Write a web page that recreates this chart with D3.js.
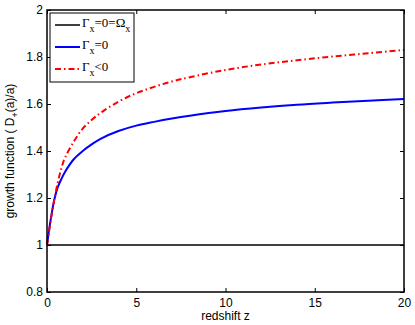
<!DOCTYPE html>
<html>
<head>
<meta charset="utf-8">
<script src="https://cdn.jsdelivr.net/npm/d3@7"></script>
<style>
  body { margin: 0; background: #fff; }
  text { font-family: "Liberation Sans", Arial, sans-serif; }
</style>
</head>
<body>
<div id="chart"></div>
<script>
// redshift samples and the three growth curves
var zVals = [0, 0.1, 0.2, 0.4, 0.6, 0.8, 1, 1.5, 2, 2.5, 3, 4, 5, 6, 7, 8, 10, 12, 14, 16, 18, 20];
var gammaZero = [1.0, 1.055, 1.105, 1.19, 1.245, 1.28, 1.31, 1.365, 1.40, 1.428, 1.452, 1.485, 1.508, 1.524, 1.538, 1.55, 1.57, 1.585, 1.597, 1.606, 1.614, 1.621];
var gammaNeg = [1.0, 1.05, 1.10, 1.19, 1.265, 1.325, 1.37, 1.44, 1.495, 1.532, 1.562, 1.61, 1.646, 1.673, 1.696, 1.714, 1.745, 1.768, 1.786, 1.802, 1.816, 1.83];
var gammaOmega = zVals.map(function() { return 1; });

var xTicks = [0, 5, 10, 15, 20];
var yTicks = [0.8, 1, 1.2, 1.4, 1.6, 1.8, 2];

var svgWidth = 415, svgHeight = 325;
var margin = { top: 10, right: 11, bottom: 33, left: 47 };
var width = svgWidth - margin.left - margin.right;
var height = svgHeight - margin.top - margin.bottom;

var svg = d3.select("#chart").append("svg")
  .attr("width", svgWidth)
  .attr("height", svgHeight);

var g = svg.append("g")
  .attr("transform", "translate(" + margin.left + "," + margin.top + ")");

var x = d3.scaleLinear().domain([0, 20]).range([0, width]);
var y = d3.scaleLinear().domain([0.8, 2]).range([height, 0]);

// axes, matlab style: ticks inside on all four sides
var tickLen = 4;
function styleAxis(sel) {
  sel.select(".domain").remove();
  sel.selectAll("line").attr("stroke", "#000").attr("stroke-width", 1);
  sel.selectAll("text").attr("font-size", 12).attr("fill", "#000");
}
g.append("g").attr("transform", "translate(0," + height + ")")
  .call(d3.axisBottom(x).tickValues(xTicks).tickSize(-tickLen).tickPadding(6).tickFormat(d3.format("d")))
  .call(styleAxis);
g.append("g")
  .call(d3.axisTop(x).tickValues(xTicks).tickSize(-tickLen).tickFormat(""))
  .call(styleAxis);
g.append("g")
  .call(d3.axisLeft(y).tickValues(yTicks).tickSize(-tickLen).tickPadding(4).tickFormat(function(d) { return String(+d.toFixed(1)); }))
  .call(styleAxis);
g.append("g").attr("transform", "translate(" + width + ",0)")
  .call(d3.axisRight(y).tickValues(yTicks).tickSize(-tickLen).tickFormat(""))
  .call(styleAxis);

var line = d3.line()
  .x(function(d, i) { return x(zVals[i]); })
  .y(function(d) { return y(d); })
  .curve(d3.curveCatmullRom);

g.append("path").datum(gammaOmega)
  .attr("d", line).attr("fill", "none").attr("stroke", "#000").attr("stroke-width", 1.5);
g.append("path").datum(gammaZero)
  .attr("d", line).attr("fill", "none").attr("stroke", "#0000ff").attr("stroke-width", 2);
g.append("path").datum(gammaNeg)
  .attr("d", line).attr("fill", "none").attr("stroke", "#ff0000").attr("stroke-width", 2)
  .attr("stroke-dasharray", "6,3,1.5,3");

// frame
g.append("rect").attr("width", width).attr("height", height)
  .attr("fill", "none").attr("stroke", "#000").attr("stroke-width", 1.5);

// axis labels
svg.append("text")
  .attr("x", margin.left + width / 2).attr("y", 320)
  .attr("text-anchor", "middle").attr("font-size", 12)
  .text("redshift z");

var yLab = svg.append("text")
  .attr("transform", "translate(14," + (margin.top + height / 2) + ")rotate(-90)")
  .attr("text-anchor", "middle").attr("font-size", 12);
yLab.append("tspan").text("growth function ( D");
yLab.append("tspan").attr("font-size", 9).attr("dy", 4).text("+");
yLab.append("tspan").attr("dy", -4).text("(a)/a)");

// legend
var legend = svg.append("g").attr("transform", "translate(50,13)");
legend.append("rect").attr("width", 84).attr("height", 69)
  .attr("fill", "#fff").attr("stroke", "#000").attr("stroke-width", 1);

var legendItems = [
  { color: "#000", dash: null, width: 1.5, rest: "=0=Ω", sub2: "x" },
  { color: "#0000ff", dash: null, width: 2, rest: "=0", sub2: null },
  { color: "#ff0000", dash: "6,3,1.5,3", width: 2, rest: "<0", sub2: null }
];
legendItems.forEach(function(d, i) {
  var ly = 12 + i * 22;
  legend.append("line")
    .attr("x1", 5).attr("x2", 30).attr("y1", ly).attr("y2", ly)
    .attr("stroke", d.color).attr("stroke-width", d.width)
    .attr("stroke-dasharray", d.dash);
  var t = legend.append("text")
    .attr("x", 32).attr("y", ly + 2)
    .style("font-family", "'Liberation Serif', 'Times New Roman', serif")
    .attr("font-size", 13);
  t.append("tspan").text("Γ");
  t.append("tspan").attr("font-size", 10).attr("dy", 5).text("x");
  t.append("tspan").attr("dy", -5).text(d.rest);
  if (d.sub2) t.append("tspan").attr("font-size", 10).attr("dy", 5).text(d.sub2);
});
</script>
</body>
</html>
